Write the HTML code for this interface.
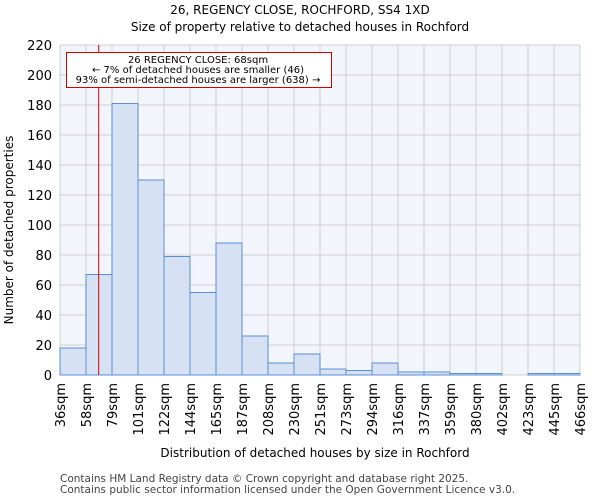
<!DOCTYPE html>
<html><head><meta charset="utf-8"><style>body{margin:0;background:#fff}svg{display:block;font-family:"DejaVu Sans","Liberation Sans",sans-serif}</style></head>
<body>
<svg id="c" width="600" height="500">
<text x="300" y="14" text-anchor="middle" font-size="12">26, REGENCY CLOSE, ROCHFORD, SS4 1XD</text>
<text x="300" y="31" text-anchor="middle" font-size="12">Size of property relative to detached houses in Rochford</text>
<rect x="60" y="45" width="520" height="330" fill="#f2f5fc"/>
<g id="grid"></g><g id="bars"></g><g id="axes"></g>
<text x="315" y="457" text-anchor="middle" font-size="12">Distribution of detached houses by size in Rochford</text>
<text transform="translate(13,230) rotate(-90)" text-anchor="middle" font-size="12">Number of detached properties</text>
<text x="60" y="482" font-size="10.5" fill="#444">Contains HM Land Registry data © Crown copyright and database right 2025.</text>
<text x="60" y="493" font-size="10.5" fill="#444">Contains public sector information licensed under the Open Government Licence v3.0.</text>
</svg>
<script>
const categories=["36sqm","58sqm","79sqm","101sqm","122sqm","144sqm","165sqm","187sqm","208sqm","230sqm","251sqm","273sqm","294sqm","316sqm","337sqm","359sqm","380sqm","402sqm","423sqm","445sqm","466sqm"];
const counts=[18,67,181,130,79,55,88,26,8,14,4,3,8,2,2,1,1,0,1,1];
const yTicks=[0,20,40,60,80,100,120,140,160,180,200,220];
const propertySize=68;
const binStart=36, binWidth=21.5;
const X0=60,X1=580,Y0=375,Y1=45,yMax=220;
const xb=i=>X0+i*(X1-X0)/counts.length;
const y=v=>Y0-v/yMax*(Y0-Y1);
const xs=s=>X0+(s-binStart)/binWidth*(X1-X0)/counts.length;
const NS="http://www.w3.org/2000/svg";
function mk(t,a,p){const e=document.createElementNS(NS,t);for(const k in a)e.setAttribute(k,a[k]);p.appendChild(e);return e;}
const G=document.getElementById('grid'),B=document.getElementById('bars'),A=document.getElementById('axes');
yTicks.forEach(v=>{
 const l=mk('line',{x1:X0,x2:X1,y1:y(v),y2:y(v),stroke:'#d0d0d0'},G);
 
 
 const t=mk('text',{x:X0-8,y:y(v)+5,'text-anchor':'end','font-size':13},A);t.textContent=v;
 
 
});
categories.forEach((c,i)=>{
 const l=mk('line',{x1:xb(i),x2:xb(i),y1:Y1,y2:Y0,stroke:'#d0d0d0'},G);
 
 
 const t=mk('text',{transform:`translate(${xb(i)+5},383) rotate(-90)`,'text-anchor':'end','font-size':13},A);t.textContent=c;
 
 
});
counts.forEach((v,i)=>{
 if(v<=0)return;
 const r=mk('rect',{x:xb(i),y:y(v),width:xb(i+1)-xb(i),height:Y0-y(v),fill:'#d6e1f3',stroke:'#5b8fd6','stroke-width':1},B);
 
 
});
const px=xs(propertySize);
const rl=mk('line',{x1:px,x2:px,y1:Y1,y2:Y0,stroke:'#d00','stroke-width':1},A);


const g=mk('g',{},A);


mk('rect',{x:66.5,y:52.5,width:265,height:35,fill:'#fff',stroke:'#c00'},g);
[["26 REGENCY CLOSE: 68sqm",63],["← 7% of detached houses are smaller (46)",73],["93% of semi-detached houses are larger (638) →",83]].forEach(([s,yy])=>{
 const t=mk('text',{x:198,y:yy,'text-anchor':'middle','font-size':10},g);t.textContent=s;
 
 
});
</script>
</body></html>
